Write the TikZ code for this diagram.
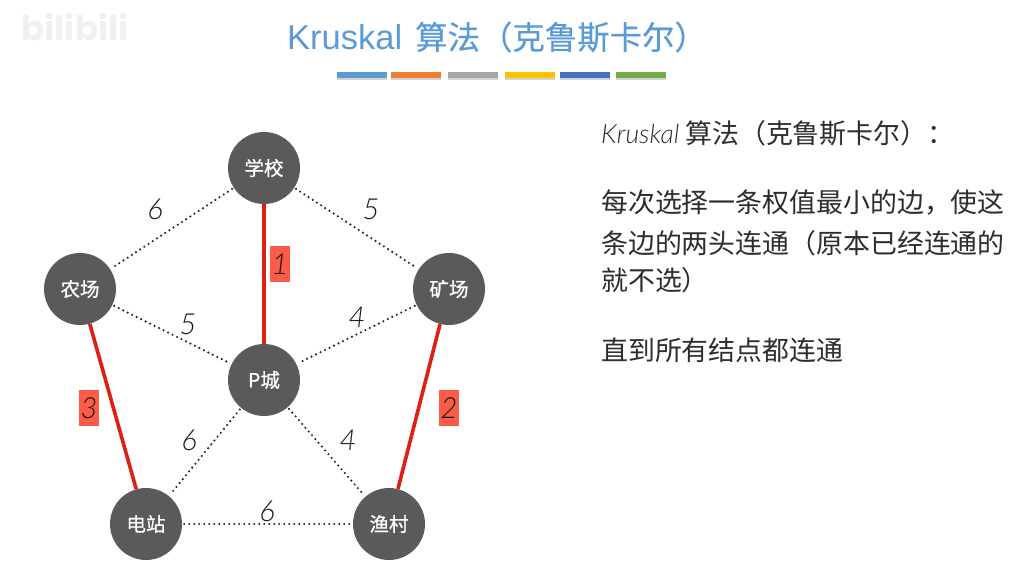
\documentclass[tikz,border=0pt]{standalone}
\usepackage{fontspec}
\setmainfont{Lato}
\newfontfamily\lightit[ItalicFont={Lato Light Italic}]{Lato Light}
\newfontfamily\cjk{Noto Sans CJK SC}
\newfontfamily\cjkm[FakeBold=0.35]{Noto Sans CJK SC}
\newfontfamily\cjkb[FakeBold=0.8]{Noto Sans CJK SC}
\newfontfamily\latn{Liberation Sans}
\newfontfamily\wm{Poppins}
\newcommand{\fs}[1]{\fontsize{#1pt}{#1pt}\selectfont}
\definecolor{titleblue}{HTML}{5B9BD5}
\definecolor{nodegray}{HTML}{5A5A5C}
\definecolor{rededge}{RGB}{222,32,20}
\definecolor{tagred}{RGB}{250,92,72}
\definecolor{txt}{RGB}{45,45,45}
\definecolor{bartwo}{HTML}{ED7D31}
\definecolor{barthree}{HTML}{A5A5A5}
\definecolor{barfour}{HTML}{FFC000}
\definecolor{barfive}{HTML}{4472C4}
\definecolor{barsix}{HTML}{70AD47}
\usetikzlibrary{shadows}
\tikzset{
  city/.style={circle,fill=nodegray,minimum size=72pt,inner sep=0pt,text=white,font=\cjkb\fs{19.5}},
  dotedge/.style={line width=2.4pt,line cap=round,dash pattern=on 0pt off 5pt,black!85,shorten >=2pt,shorten <=2pt},
  chosen/.style={line width=3.6pt,rededge},
  weight/.style={inner sep=0pt,font=\lightit\itshape\fs{29},text=black!90},
  tag/.style={fill=tagred,minimum width=20pt,minimum height=36pt,inner sep=0pt,font=\lightit\itshape\fs{29},text=black!90},
  bar/.style={minimum height=6pt,minimum width=50pt,inner sep=0pt,drop shadow={shadow xshift=0pt,shadow yshift=-1.5pt,opacity=.35}},
  para/.style={anchor=west,inner sep=0pt,font=\cjk\fs{26.9},text=txt},
}
\begin{document}
\begin{tikzpicture}[x=1pt,y=-1pt]
\useasboundingbox (0,0) rectangle (1034,569);
\node[anchor=center,inner sep=0pt,font=\wm\bfseries\fs{34},text=black!6] (wmk) at (75,27) {bilibili};
\node[anchor=west,inner sep=0pt,text=titleblue,font=\latn\fs{34.5}] (title) at (287,37) {Kruskal\hspace{13pt}{\cjkm\fs{32.4}算法（克鲁斯卡尔）}};
\node[bar,fill=titleblue] (b1) at (362,75.5) {};
\node[bar,fill=bartwo] (b2) at (416,75.5) {};
\node[bar,fill=barthree] (b3) at (472.5,75.5) {};
\node[bar,fill=barfour] (b4) at (529.5,75.5) {};
\node[bar,fill=barfive] (b5) at (585,75.5) {};
\node[bar,fill=barsix] (b6) at (640.5,75.5) {};

\node[city] (school) at (264,168) {学校};
\node[city] (farm) at (80,289) {农场};
\node[city] (mine) at (449,289) {矿场};
\node[city] (pcity) at (264,380) {P城};
\node[city] (plant) at (146,524) {电站};
\node[city] (fish) at (389,524) {渔村};

\draw[dotedge] (school) -- (farm);
\draw[dotedge] (school) -- (mine);
\draw[dotedge] (farm) -- (pcity);
\draw[dotedge] (mine) -- (pcity);
\draw[dotedge] (pcity) -- (plant);
\draw[dotedge] (pcity) -- (fish);
\draw[dotedge] (plant) -- (fish);
\draw[chosen] (school) -- (pcity);
\draw[chosen] (farm) -- (plant);
\draw[chosen] (mine) -- (fish);

\node[weight] (w1) at (155,209) {6};
\node[weight] (w2) at (371,209) {5};
\node[weight] (w3) at (188,324) {5};
\node[weight] (w4) at (357,317) {4};
\node[weight] (w5) at (189,440) {6};
\node[weight] (w6) at (348,440) {4};
\node[weight] (w7) at (267,511) {6};
\node[tag] (t1) at (280,264) {1};
\node[tag] (t2) at (449,408) {2};
\node[tag] (t3) at (89,408) {3};

\node[para] (p1) at (601,133) {{\lightit\itshape\fs{26.5}Kruskal} 算法（克鲁斯卡尔）：};
\node[para] (p2) at (601,203) {每次选择一条权值最小的边，使这};
\node[para] (p3) at (601,243) {条边的两头连通（原本已经连通的};
\node[para] (p4) at (601,280) {就不选）};
\node[para] (p5) at (601,350) {直到所有结点都连通};
\end{tikzpicture}
\end{document}
